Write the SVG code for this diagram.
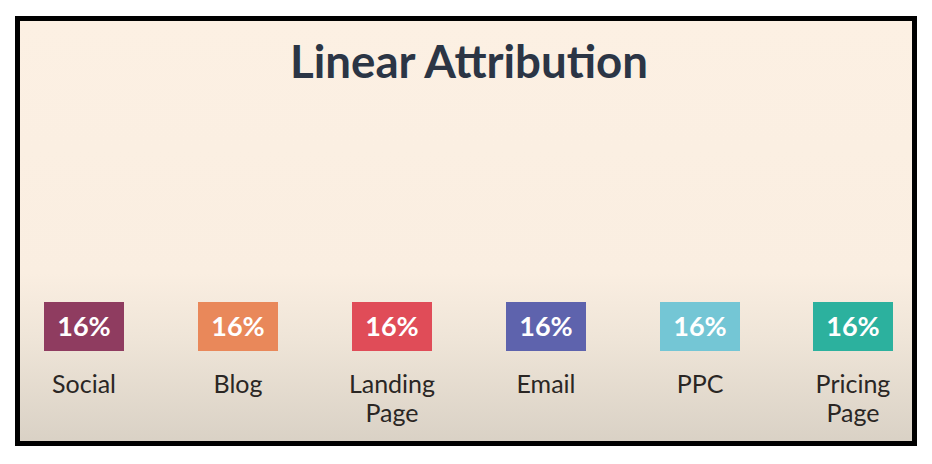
<svg xmlns="http://www.w3.org/2000/svg" width="932" height="464" viewBox="0 0 932 464">
<defs>
<linearGradient id="bg" x1="0" y1="0" x2="0" y2="1">
<stop offset="0" stop-color="#fcf0e3"/>
<stop offset="0.6" stop-color="#faeee1"/>
<stop offset="0.75" stop-color="#efe5d8"/>
<stop offset="1" stop-color="#d9d1c5"/>
</linearGradient>
<style>
.pct{font-family:Lato,"Open Sans",sans-serif;font-weight:700;font-size:27px;fill:#ffffff;text-anchor:middle}
.lbl{font-family:Lato,"Open Sans",sans-serif;font-size:25px;fill:#2a2624;text-anchor:middle}
.title{font-family:Lato,"Open Sans",sans-serif;font-weight:700;font-size:45px;fill:#2b3545;text-anchor:middle}
</style>
</defs>
<rect x="0" y="0" width="932" height="464" fill="#ffffff"/>
<rect x="17.5" y="18.5" width="897" height="425" fill="url(#bg)" stroke="#000" stroke-width="5"/>
<text class="title" x="469" y="78" textLength="358" lengthAdjust="spacingAndGlyphs">Linear Attribution</text>
<g id="social"><rect x="44" y="302" width="80" height="49" fill="#8f3c60"/><text class="pct" x="84" y="336">16%</text><text class="lbl" x="84" y="393">Social</text></g>
<g id="blog"><rect x="198" y="302" width="80" height="49" fill="#e9885a"/><text class="pct" x="238" y="336">16%</text><text class="lbl" x="238" y="393">Blog</text></g>
<g id="landing"><rect x="352" y="302" width="80" height="49" fill="#e04c58"/><text class="pct" x="392" y="336">16%</text><text class="lbl" x="392" y="393">Landing</text><text class="lbl" x="392" y="422">Page</text></g>
<g id="email"><rect x="506" y="302" width="80" height="49" fill="#5e63ad"/><text class="pct" x="546" y="336">16%</text><text class="lbl" x="546" y="393">Email</text></g>
<g id="ppc"><rect x="660" y="302" width="80" height="49" fill="#74c6d5"/><text class="pct" x="700" y="336">16%</text><text class="lbl" x="700" y="393">PPC</text></g>
<g id="pricing"><rect x="813" y="302" width="80" height="49" fill="#2cb19e"/><text class="pct" x="853" y="336">16%</text><text class="lbl" x="853" y="393">Pricing</text><text class="lbl" x="853" y="422">Page</text></g>
<g id="connectors"/>
</svg>
